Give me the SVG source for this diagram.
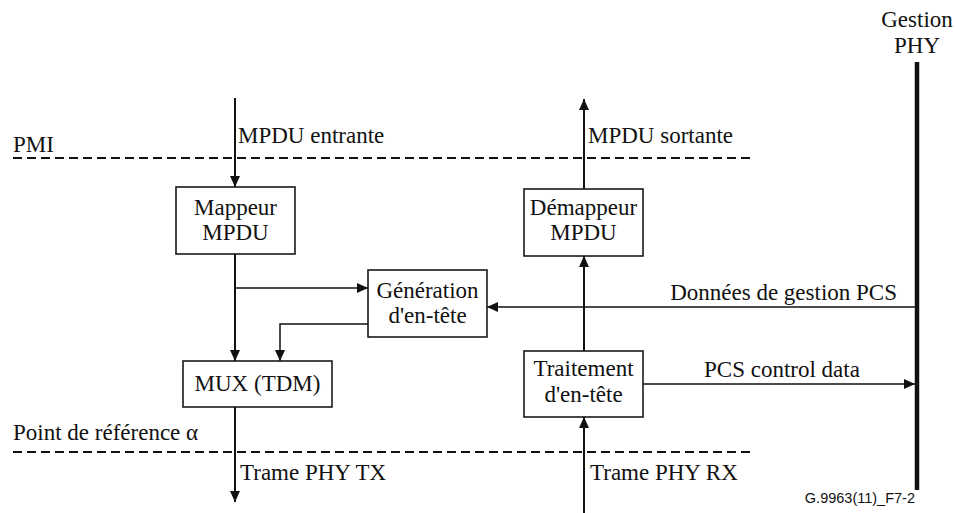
<svg xmlns="http://www.w3.org/2000/svg" width="956" height="513" viewBox="0 0 956 513">
  <style>
    .box { fill: #ffffff; stroke: #1a1a1a; stroke-width: 1.6; }
    .lbl { font-family: 'Liberation Serif', 'DejaVu Serif', serif; font-size: 23px; fill: #111111; }
    .mid { text-anchor: middle; }
    .end { text-anchor: end; }
    .flow { fill: none; stroke: #111111; stroke-width: 2; }
    .thin { fill: none; stroke: #111111; stroke-width: 1.5; }
    .ref { fill: none; stroke: #111111; stroke-width: 2; stroke-dasharray: 9 5; }
    .bus { fill: none; stroke: #111111; stroke-width: 4.5; }
    .tag { font-family: 'Liberation Sans', Arial, sans-serif; font-size: 14.5px; fill: #111111; }
  </style>
  <defs>
    <marker id="head" markerUnits="userSpaceOnUse" markerWidth="12" markerHeight="11" refX="11" refY="5" orient="auto">
      <path d="M0,0 L11,5 L0,10 Z" fill="#111111"/>
    </marker>
  </defs>
  <rect width="956" height="513" fill="#ffffff"/>

  <!-- reference planes -->
  <g id="planes">
    <path class="ref" d="M13,158 H753"/>
    <path class="ref" d="M13,452 H753"/>
    <text class="lbl" x="13" y="152">PMI</text>
    <text class="lbl" x="13" y="440">Point de référence α</text>
  </g>

  <!-- connectors -->
  <g id="connectors">
    <path class="flow" d="M235,98 V187" marker-end="url(#head)"/>
    <path class="flow" d="M235,254 V361" marker-end="url(#head)"/>
    <path class="thin" d="M235,288 H368" marker-end="url(#head)"/>
    <path class="thin" d="M368,324 H280 V361" marker-end="url(#head)"/>
    <path class="flow" d="M235,407 V502" marker-end="url(#head)"/>
    <path class="flow" d="M584,189 V99" marker-end="url(#head)"/>
    <path class="flow" d="M584,351 V256" marker-end="url(#head)"/>
    <path class="flow" d="M584,513 V417" marker-end="url(#head)"/>
    <path class="thin" d="M917,307 H487" marker-end="url(#head)"/>
    <path class="thin" d="M643,384 H915" marker-end="url(#head)"/>
    <text class="lbl" x="238" y="143">MPDU entrante</text>
    <text class="lbl" x="588" y="143">MPDU sortante</text>
    <text class="lbl" x="240" y="480">Trame PHY TX</text>
    <text class="lbl" x="590" y="480">Trame PHY RX</text>
    <text class="lbl end" x="897" y="300">Données de gestion PCS</text>
    <text class="lbl mid" x="782" y="377">PCS control data</text>
  </g>

  <!-- PHY management bus -->
  <g id="gestion-phy">
    <path class="bus" d="M917,62 V490"/>
    <text class="lbl mid" x="917" y="27">Gestion</text>
    <text class="lbl mid" x="917" y="53">PHY</text>
  </g>

  <g id="mappeur">
    <rect class="box" x="176" y="187" width="119" height="67"/>
    <text class="lbl mid" x="235.5" y="215">Mappeur</text>
    <text class="lbl mid" x="235.5" y="240">MPDU</text>
  </g>

  <g id="generation">
    <rect class="box" x="368" y="270" width="119" height="67"/>
    <text class="lbl mid" x="427.5" y="298">Génération</text>
    <text class="lbl mid" x="427.5" y="323">d'en-tête</text>
  </g>

  <g id="mux">
    <rect class="box" x="183" y="361" width="149" height="46"/>
    <text class="lbl mid" x="257.5" y="391">MUX (TDM)</text>
  </g>

  <g id="demappeur">
    <rect class="box" x="524" y="189" width="119" height="67"/>
    <text class="lbl mid" x="583.5" y="215">Démappeur</text>
    <text class="lbl mid" x="583.5" y="240">MPDU</text>
  </g>

  <g id="traitement">
    <rect class="box" x="524" y="351" width="119" height="66"/>
    <text class="lbl mid" x="583.5" y="376">Traitement</text>
    <text class="lbl mid" x="583.5" y="402">d'en-tête</text>
  </g>

  <text class="tag end" x="915" y="503">G.9963(11)_F7-2</text>
</svg>
